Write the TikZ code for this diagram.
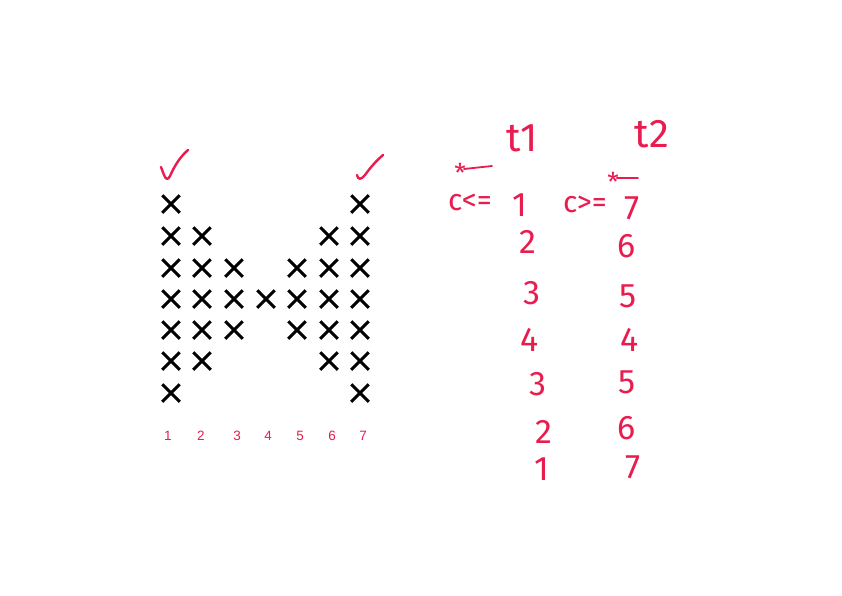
\documentclass[tikz,border=0pt]{standalone}
\usepackage{fontspec}
\setmainfont{Liberation Sans}
\newfontfamily\hand{Fira Sans}
\usetikzlibrary{shapes.misc}
\definecolor{ink}{RGB}{232,28,78}
\tikzset{
  xm/.style={cross out, draw=black, line width=3pt, minimum size=14.5pt, inner sep=0pt},
  colnum/.style={text=ink, font=\fontsize{13.5}{13.5}\selectfont, inner sep=0pt},
  hw/.style={text=ink, font=\hand\fontsize{34}{34}\selectfont, inner sep=0pt},
  hwt/.style={text=ink, font=\hand\fontsize{40}{40}\selectfont, inner sep=0pt},
  hws/.style={text=ink, font=\hand\fontsize{30}{30}\selectfont, inner sep=0pt},
  star/.style={text=ink, font=\hand\fontsize{26}{26}\selectfont, inner sep=0pt, anchor=base, text depth=0pt},
  stroke/.style={draw=ink, line width=2.4pt, line cap=round, line join=round},
}
\begin{document}
\begin{tikzpicture}[x=1pt,y=-1pt]
\useasboundingbox (0,0) rectangle (842,595);
% column x positions
\def\cA{171}\def\cB{202}\def\cC{234}\def\cD{266}\def\cE{297}\def\cF{329}\def\cG{360}
\foreach \r/\y in {1/204,2/236,3/268,4/299,5/330,6/361,7/393} \node[xm] (a\r) at (\cA,\y) {};
\foreach \r/\y in {2/236,3/268,4/299,5/330,6/361} \node[xm] (b\r) at (\cB,\y) {};
\foreach \r/\y in {3/268,4/299,5/330} \node[xm] (c\r) at (\cC,\y) {};
\node[xm] (d4) at (\cD,299) {};
\foreach \r/\y in {3/268,4/299,5/330} \node[xm] (e\r) at (\cE,\y) {};
\foreach \r/\y in {2/236,3/268,4/299,5/330,6/361} \node[xm] (f\r) at (\cF,\y) {};
\foreach \r/\y in {1/204,2/236,3/268,4/299,5/330,6/361,7/393} \node[xm] (g\r) at (\cG,\y) {};
% column numbers
\node[colnum] (n1) at (168,436) {1};
\node[colnum] (n2) at (201,436) {2};
\node[colnum] (n3) at (237,436) {3};
\node[colnum] (n4) at (268,436) {4};
\node[colnum] (n5) at (300,436) {5};
\node[colnum] (n6) at (332,436) {6};
\node[colnum] (n7) at (363,436) {7};
% check marks
\draw[stroke] (161,167) -- (164,175) .. controls (166,180) and (168,180) .. (170,176) .. controls (175,165) and (180,157) .. (188,150);
\draw[stroke] (357,175) .. controls (358,180) and (361,180) .. (365,175) .. controls (370,168) and (376,161) .. (383,155);
% headers
\node[hwt] (t1) at (522,138) {t1};
\node[hwt] (t2) at (652,134) {t2};
% conditions
\node[star] (s1) at (460,182) {*};
\coordinate (s1e) at (492,166);
\draw[stroke, line width=1.8pt] ([xshift=-2pt,yshift=13pt]s1.base east) -- (s1e);
\node[hws] (c1) at (470,202) {c<=};
\node[hw] (v1) at (520,205) {1};
\node[star] (s2) at (613,191) {*};
\coordinate (s2e) at (638,178);
\draw[stroke, line width=1.8pt] ([xshift=-2pt,yshift=13pt]s2.base east) -- (s2e);
\node[hws] (c2) at (585,204) {c>=};
\node[hw] (w1) at (632,208) {7};
% t1 column
\node[hw] (v2) at (528,242) {2};
\node[hw] (v3) at (532,293) {3};
\node[hw] (v4) at (530,340) {4};
\node[hw] (v5) at (538,384) {3};
\node[hw] (v6) at (544,432) {2};
\node[hw] (v7) at (542,469) {1};
% t2 column
\node[hw] (w2) at (627,246) {6};
\node[hw] (w3) at (628,296) {5};
\node[hw] (w4) at (630,340) {4};
\node[hw] (w5) at (627,382) {5};
\node[hw] (w6) at (627,428) {6};
\node[hw] (w7) at (633,467) {7};
\end{tikzpicture}
\end{document}
